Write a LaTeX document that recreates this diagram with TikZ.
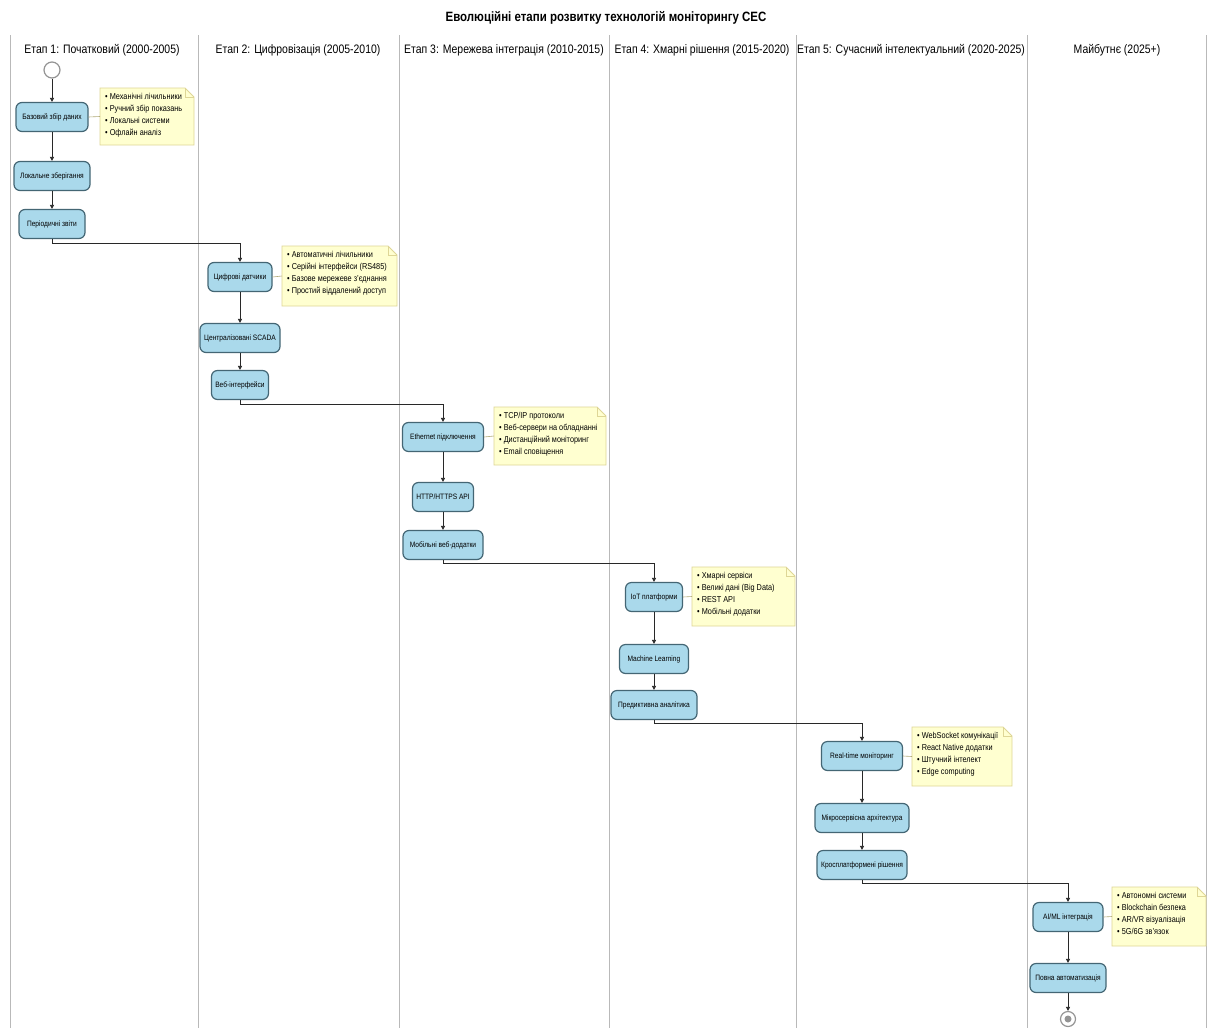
\documentclass[tikz,border=0pt]{standalone}
\usepackage{fontspec}
\setmainfont[FakeStretch=0.85]{Liberation Sans}
\usetikzlibrary{calc,arrows.meta}
\definecolor{actfill}{RGB}{170,217,235}
\definecolor{actdraw}{RGB}{68,102,116}
\definecolor{notefill}{RGB}{255,255,208}
\definecolor{notedraw}{RGB}{222,214,150}
\definecolor{lanegray}{RGB}{185,185,185}
\definecolor{flow}{RGB}{40,40,40}
\begin{document}
\begin{tikzpicture}[x=1pt,y=-1pt,
  act/.style={draw=actdraw,fill=actfill,line width=1.2pt,rounded corners=6pt,
    minimum height=29pt,inner sep=1pt,font=\fontsize{7.8}{9}\selectfont},
  notetext/.style={inner sep=0pt,align=left,anchor=north west,
    font=\fontsize{8.6}{12}\selectfont},
  lane/.style={draw=lanegray,line width=1pt},
  lanehead/.style={font=\fontsize{12.3}{14}\selectfont,anchor=center},
  flowarrow/.style={draw=flow,line width=0.7pt,-{Triangle[length=4pt,width=4pt]}},
  notelink/.style={draw=notedraw!80!black,line width=0.6pt},
  startnode/.style={circle,draw=lanegray!80!black,fill=white,line width=1.2pt,minimum size=16pt,inner sep=0pt},
]
\useasboundingbox (0,0) rectangle (1210,1028);
\fill[white] (0,0) rectangle (1210,1028);

% title
\node[font=\bfseries\fontsize{13.5}{15}\selectfont] (title) at (606,18) {Еволюційні етапи розвитку технологій моніторингу СЕС};

% swimlane separators
\foreach \x in {10,198,399,609,796,1027,1206}
  \draw[lane] (\x,35) -- (\x,1028);

% swimlane headings
\node[lanehead] (h1) at (102,50) {Етап 1: Початковий (2000-2005)};
\node[lanehead] (h2) at (298,50) {Етап 2: Цифровізація (2005-2010)};
\node[lanehead] (h3) at (504,50) {Етап 3: Мережева інтеграція (2010-2015)};
\node[lanehead] (h4) at (702,50) {Етап 4: Хмарні рішення (2015-2020)};
\node[lanehead] (h5) at (911,50) {Етап 5: Сучасний інтелектуальний (2020-2025)};
\node[lanehead] (h6) at (1117,50) {Майбутнє (2025+)};

% notes: name, left x, top y, width, height, lines
\newcommand\sesnote[6]{%
  \path[fill=notefill,draw=notedraw,line width=0.8pt]
    (#2,#3) -- ++(#4-9,0) -- ++(9,9) -- ++(0,#5-9) -- ++(-#4,0) -- cycle;
  \draw[notedraw,line width=0.8pt] (#2+#4-9,#3) -- ++(0,9) -- ++(9,0);
  \node[notetext] (#1) at (#2+5,#3+5) {#6};
  \coordinate (#1w) at (#2,#3+#5/2);
}

% ---- stage 1
\node[startnode] (start) at (52,70) {};
\node[act,minimum width=72pt] (a1) at (52,117) {Базовий збір даних};
\node[act,minimum width=76pt] (a2) at (52,176) {Локальне зберігання};
\node[act,minimum width=66pt] (a3) at (52,224) {Періодичні звіти};
\sesnote{n1}{100}{88}{94}{57}{• Механічні лічильники\\• Ручний збір показань\\• Локальні системи\\• Офлайн аналіз}
\draw[notelink] (a1.east) -- (n1w);

% ---- stage 2
\node[act,minimum width=64pt] (b1) at (240,277) {Цифрові датчики};
\node[act,minimum width=80pt] (b2) at (240,338) {Централізовані SCADA};
\node[act,minimum width=57pt] (b3) at (240,385) {Веб-інтерфейси};
\sesnote{n2}{282}{246}{115}{60}{• Автоматичні лічильники\\• Серійні інтерфейси (RS485)\\• Базове мережеве з'єднання\\• Простий віддалений доступ}
\draw[notelink] (b1.east) -- (n2w);

% ---- stage 3
\node[act,minimum width=81pt] (c1) at (443,437) {Ethernet підключення};
\node[act,minimum width=61pt] (c2) at (443,497) {HTTP/HTTPS API};
\node[act,minimum width=80pt] (c3) at (443,545) {Мобільні веб-додатки};
\sesnote{n3}{494}{407}{112}{58}{• TCP/IP протоколи\\• Веб-сервери на обладнанні\\• Дистанційний моніторинг\\• Email сповіщення}
\draw[notelink] (c1.east) -- (n3w);

% ---- stage 4
\node[act,minimum width=57pt] (d1) at (654,597) {IoT платформи};
\node[act,minimum width=69pt] (d2) at (654,659) {Machine Learning};
\node[act,minimum width=86pt] (d3) at (654,705) {Предиктивна аналітика};
\sesnote{n4}{692}{567}{103}{59}{• Хмарні сервіси\\• Великі дані (Big Data)\\• REST API\\• Мобільні додатки}
\draw[notelink] (d1.east) -- (n4w);

% ---- stage 5
\node[act,minimum width=81pt] (e1) at (862,756) {Real-time моніторинг};
\node[act,minimum width=94pt] (e2) at (862,818) {Мікросервісна архітектура};
\node[act,minimum width=90pt] (e3) at (862,865) {Кросплатформені рішення};
\sesnote{n5}{912}{727}{100}{59}{• WebSocket комунікації\\• React Native додатки\\• Штучний інтелект\\• Edge computing}
\draw[notelink] (e1.east) -- (n5w);

% ---- future
\node[act,minimum width=70pt] (f1) at (1068,917) {AI/ML інтеграція};
\node[act,minimum width=76pt] (f2) at (1068,978) {Повна автоматизація};
\sesnote{n6}{1112}{887}{94}{59}{• Автономні системи\\• Blockchain безпека\\• AR/VR візуалізація\\• 5G/6G зв'язок}
\draw[notelink] (f1.east) -- (n6w);
\node[startnode,minimum size=15pt] (stop) at (1068,1019) {};
\node[circle,fill=lanegray!80!black,minimum size=7pt,inner sep=0pt] (stopdot) at (stop) {};

% ---- control flow within lanes
\draw[flowarrow] (start) -- (a1);
\draw[flowarrow] (a1) -- (a2);
\draw[flowarrow] (a2) -- (a3);
\draw[flowarrow] (b1) -- (b2);
\draw[flowarrow] (b2) -- (b3);
\draw[flowarrow] (c1) -- (c2);
\draw[flowarrow] (c2) -- (c3);
\draw[flowarrow] (d1) -- (d2);
\draw[flowarrow] (d2) -- (d3);
\draw[flowarrow] (e1) -- (e2);
\draw[flowarrow] (e2) -- (e3);
\draw[flowarrow] (f1) -- (f2);
\draw[flowarrow] (f2) -- (stop);

% ---- control flow between lanes
\draw[flowarrow] (a3.south) -- ++(0,4) -| (b1.north);
\draw[flowarrow] (b3.south) -- ++(0,4) -| (c1.north);
\draw[flowarrow] (c3.south) -- ++(0,3) -| (d1.north);
\draw[flowarrow] (d3.south) -- ++(0,3) -| (e1.north);
\draw[flowarrow] (e3.south) -- ++(0,3) -| (f1.north);
\end{tikzpicture}
\end{document}
